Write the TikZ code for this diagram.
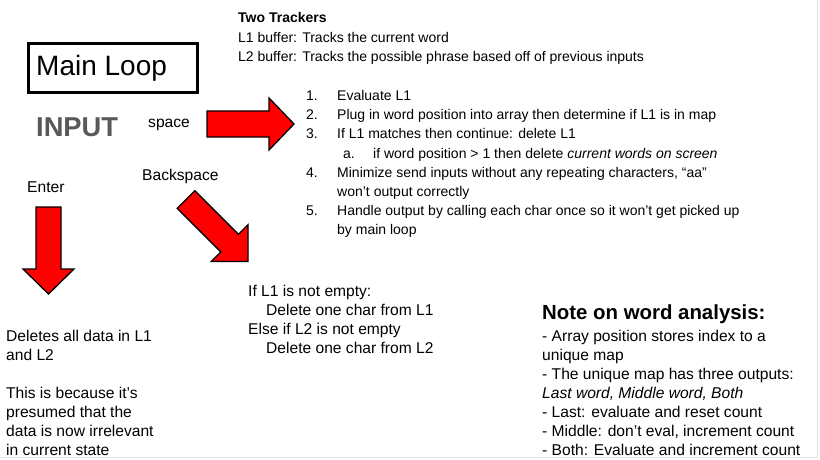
\documentclass[tikz,border=0pt]{standalone}
\usepackage{fontspec}
\setmainfont{Liberation Sans}
\definecolor{inputgray}{HTML}{595959}
\definecolor{arrowred}{HTML}{FF0000}
\begin{document}
\begin{tikzpicture}[x=1pt,y=-1pt,
  txt/.style={anchor=base west, inner sep=0pt, font=\fontsize{15.6}{19}\selectfont},
  lst/.style={anchor=base west, inner sep=0pt, font=\fontsize{14}{19}\selectfont},
  blockarrow/.style={draw=black, fill=arrowred, line width=1.3pt, line join=miter},
]
\useasboundingbox (0,0) rectangle (820,460);
\fill[white] (0,0) rectangle (820,460);
\draw[black!10, line width=1pt] (817.5,0) -- (817.5,457.5) -- (0,457.5);

% Main loop box
\node[draw, line width=2.7pt, minimum width=169.3pt, minimum height=49.3pt, inner sep=0pt] (mainbox) at (113,68) {};
\node[anchor=base west, inner sep=0pt, font=\fontsize{28}{32}\selectfont] (mainlabel) at (36,76) {Main Loop};
\node[anchor=base west, inner sep=0pt, font=\fontsize{27.3}{30}\selectfont\bfseries, text=inputgray] (input) at (36,136) {INPUT};

% key labels
\node[txt] (space) at (148,127.5) {space};
\node[txt] (backspace) at (142,180) {Backspace};
\node[txt] (enter) at (27,192) {Enter};

% block arrows
\draw[blockarrow] (207,111) -- (269,111) -- (269,98) -- (294,124) -- (269,150) -- (269,137) -- (207,137) -- cycle;
\draw[blockarrow] (36,207) -- (61,207) -- (61,269) -- (74,269) -- (48.5,294) -- (23,269) -- (36,269) -- cycle;
\draw[blockarrow] (194.8,190.7) -- (238.4,234.3) -- (248,224.7) -- (248,261.5) -- (211.2,261.5) -- (220.8,251.9) -- (177.2,208.3) -- cycle;

% Two trackers
\node[lst, font=\fontsize{14}{19}\selectfont\bfseries] (tt) at (238,22.5) {Two Trackers};
\node[lst] (l1) at (238,42.5) {L1 buffer: Tracks the current word};
\node[lst] (l2) at (238,61.5) {L2 buffer: Tracks the possible phrase based off of previous inputs};

% numbered list
\node[lst] (n1) at (306,101) {1.};
\node[lst] (t1) at (337,101) {Evaluate L1};
\node[lst] (n2) at (306,120) {2.};
\node[lst] (t2) at (337,120) {Plug in word position into array then determine if L1 is in map};
\node[lst] (n3) at (306,139) {3.};
\node[lst] (t3) at (337,139) {If L1 matches then continue: delete L1};
\node[lst] (na) at (343,158) {a.};
\node[lst] (ta) at (373,158) {if word position > 1 then delete \textit{current words on screen}};
\node[lst] (n4) at (306,177) {4.};
\node[lst] (t4) at (337,177) {Minimize send inputs without any repeating characters, “aa”};
\node[lst] (t4b) at (337,196) {won’t output correctly};
\node[lst] (n5) at (306,215) {5.};
\node[lst] (t5) at (337,215) {Handle output by calling each char once so it won’t get picked up};
\node[lst] (t5b) at (337,234) {by main loop};

% backspace result
\node[txt] (b1) at (248,296) {If L1 is not empty:};
\node[txt] (b2) at (266,315) {Delete one char from L1};
\node[txt] (b3) at (248,334) {Else if L2 is not empty};
\node[txt] (b4) at (266,353) {Delete one char from L2};

% enter result
\node[txt] (e1) at (6,341) {Deletes all data in L1};
\node[txt] (e2) at (6,360) {and L2};
\node[txt] (e3) at (6,398) {This is because it’s};
\node[txt] (e4) at (6,417) {presumed that the};
\node[txt] (e5) at (6,436) {data is now irrelevant};
\node[txt] (e6) at (6,455) {in current state};

% note
\node[anchor=base west, inner sep=0pt, font=\fontsize{20.4}{24}\selectfont\bfseries] (note) at (542,319.5) {Note on word analysis:};
\node[txt] (w1) at (542,341) {- Array position stores index to a};
\node[txt] (w2) at (542,360) {unique map};
\node[txt] (w3) at (542,379) {- The unique map has three outputs:};
\node[txt] (w4) at (542,398) {\textit{Last word, Middle word, Both}};
\node[txt] (w5) at (542,417) {- Last: evaluate and reset count};
\node[txt] (w6) at (542,436) {- Middle: don’t eval, increment count};
\node[txt] (w7) at (542,455) {- Both: Evaluate and increment count};
\end{tikzpicture}
\end{document}
